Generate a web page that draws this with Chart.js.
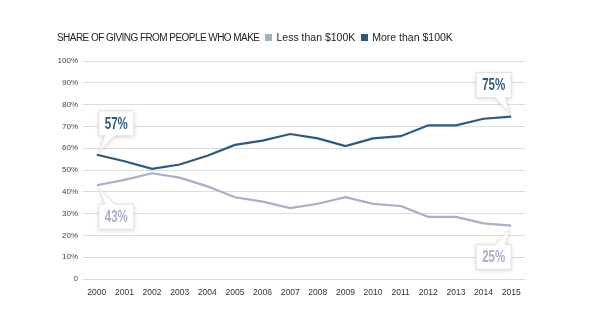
<!DOCTYPE html>
<html>
<head>
<meta charset="utf-8">
<script src="https://cdn.jsdelivr.net/npm/chart.js@4"></script>
<style>
  html, body { margin: 0; padding: 0; background: #fff; }
  #wrap { position: relative; width: 596px; height: 335px; }
  #head {
    position: absolute; left: 57px; top: 31px;
    font: 10.5px "Liberation Sans", Arial, sans-serif; color: #222;
    white-space: nowrap; display: flex; align-items: center;
  }
  #head .title { font-size: 10px; letter-spacing: -0.55px; }
  #head .sw { display: inline-block; width: 7px; height: 7px; margin: 0 4px 0 6px; }
</style>
</head>
<body>
<div id="wrap">
  <canvas id="chart" width="596" height="335"></canvas>
  <div id="head"></div>
</div>
<script>
// Share of giving by income group.
const years = ["2000", "2001", "2002", "2003", "2004", "2005", "2006", "2007",
  "2008", "2009", "2010", "2011", "2012", "2013", "2014", "2015"];
const lessThan100k = [43, 45.5, 48.5, 46.5, 42.5, 37.5, 35.5, 32.5, 34.5, 37.5, 34.5, 33.5, 28.5, 28.5, 25.5, 24.5];
const moreThan100k = [57, 54, 50.5, 52.5, 56.5, 61.5, 63.5, 66.5, 64.5, 61, 64.5, 65.5, 70.5, 70.5, 73.5, 74.5];
const seriesNames = ["Less than $100K", "More than $100K"];
const headTitle = "SHARE OF GIVING FROM PEOPLE WHO MAKE";

// Callout labels: dataset, point index, text, where the box sits.
const callouts = [
  { ds: 1, i: 0, text: "57%", side: "above", align: "left" },
  { ds: 0, i: 0, text: "43%", side: "below", align: "left" },
  { ds: 1, i: 15, text: "75%", side: "above", align: "right" },
  { ds: 0, i: 15, text: "25%", side: "below", align: "right" },
];

const LIGHT = "#a6b0c6";
const DARK = "#2c5a7e";

// header + legend as plain text
const head = document.getElementById("head");
head.innerHTML = `<span class="title">${headTitle}</span>` +
  seriesNames.map((n, k) =>
    `<span class="sw" style="background:${k ? DARK : LIGHT}"></span><span>${n}</span>`
  ).join("");

// Speech-bubble boxes pointing at the first / last points.
const calloutPlugin = {
  id: "callouts",
  afterDatasetsDraw(chart) {
    const ctx = chart.ctx;
    const w = 35, h = 25, gap = 19;
    callouts.forEach((c) => {
      const pt = chart.getDatasetMeta(c.ds).data[c.i];
      const px = pt.x, py = pt.y;
      const bx = c.align === "left" ? px + 2 : px - w;
      const by = c.side === "above" ? py - gap - h : py + gap;
      // tail base on the box edge nearest the point
      const edgeY = c.side === "above" ? by + h : by;
      const t0 = c.align === "left" ? bx + 6 : bx + w - 16;
      const t1 = t0 + 10;
      const tipX = px + (c.align === "left" ? 2 : -1);
      ctx.save();
      ctx.beginPath();
      ctx.moveTo(bx, by);
      if (c.side === "above") {
        ctx.lineTo(bx + w, by);
        ctx.lineTo(bx + w, by + h);
        ctx.lineTo(t1, edgeY);
        ctx.lineTo(tipX, py - 3);
        ctx.lineTo(t0, edgeY);
        ctx.lineTo(bx, by + h);
      } else {
        ctx.lineTo(t0, edgeY);
        ctx.lineTo(tipX, py + 3);
        ctx.lineTo(t1, edgeY);
        ctx.lineTo(bx + w, by);
        ctx.lineTo(bx + w, by + h);
        ctx.lineTo(bx, by + h);
      }
      ctx.closePath();
      ctx.shadowColor = "rgba(0,0,0,0.18)";
      ctx.shadowBlur = 4;
      ctx.shadowOffsetY = 1;
      ctx.fillStyle = "#fff";
      ctx.fill();
      ctx.shadowColor = "transparent";
      ctx.strokeStyle = "#e2e2e2";
      ctx.lineWidth = 1;
      ctx.stroke();
      // condensed bold figure
      ctx.translate(bx + w / 2, by + h / 2 + 1);
      ctx.scale(0.72, 1);
      ctx.fillStyle = c.ds === 1 ? DARK : LIGHT;
      ctx.font = "bold 16px 'Liberation Sans', Arial, sans-serif";
      ctx.textAlign = "center";
      ctx.textBaseline = "middle";
      ctx.fillText(c.text, 0, 0);
      ctx.restore();
    });
  },
};

new Chart(document.getElementById("chart"), {
  type: "line",
  data: {
    labels: years,
    datasets: [
      { label: seriesNames[0], data: lessThan100k, borderColor: LIGHT },
      { label: seriesNames[1], data: moreThan100k, borderColor: DARK },
    ],
  },
  options: {
    responsive: false,
    animation: false,
    devicePixelRatio: 1,
    layout: { padding: { left: 0, top: 61, right: 71, bottom: 0 } },
    elements: {
      line: { borderWidth: 2.2, tension: 0, fill: false },
      point: { radius: 0, hoverRadius: 0 },
    },
    plugins: { legend: { display: false }, tooltip: { enabled: false } },
    scales: {
      x: {
        offset: true,
        grid: { display: false, drawTicks: false },
        border: { display: false },
        ticks: {
          color: "#333", padding: 9, maxRotation: 0, autoSkip: false,
          font: { family: "'Liberation Sans', Arial, sans-serif", size: 8.5 },
        },
        afterFit: (s) => { s.height = 335 - 279; },
      },
      y: {
        min: 0, max: 100,
        grid: { color: "#dddddd", lineWidth: 1, drawTicks: false },
        border: { display: false },
        ticks: {
          stepSize: 10, color: "#444", padding: 5,
          font: { family: "'Liberation Sans', Arial, sans-serif", size: 8 },
          callback: (v) => (v === 0 ? "0" : v + "%"),
        },
        afterFit: (s) => { s.width = 83; },
      },
    },
  },
  plugins: [calloutPlugin],
});
</script>
</body>
</html>
